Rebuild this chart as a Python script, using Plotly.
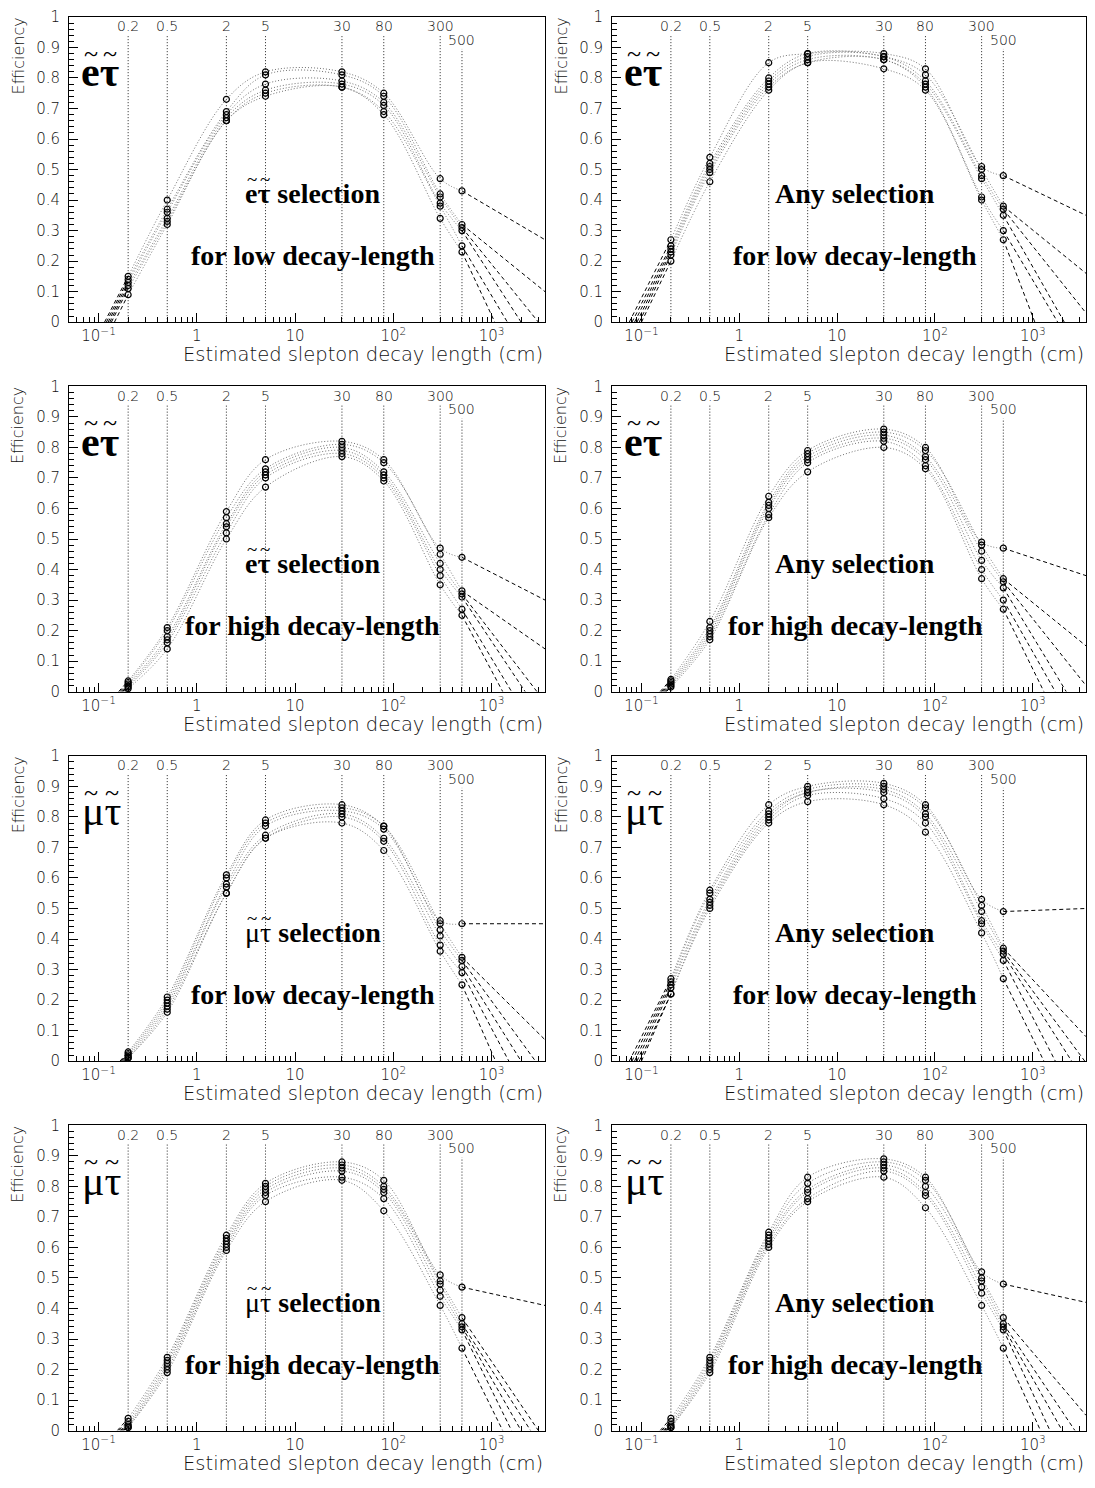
import math
import plotly.graph_objects as go

W, H = 1095, 1488

# ---------------- data ----------------
decay_points = [0.2, 0.5, 2, 5, 30, 80, 300, 500]
decay_labels = ["0.2", "0.5", "2", "5", "30", "80", "300", "500"]
xtick_vals = [0.1, 1, 10, 100, 1000]
xtick_text = ["10<sup>\u22121</sup>", "1", "10", "10<sup>2</sup>", "10<sup>3</sup>"]

# efficiencies, one row per curve, columns follow decay_points
eff_etau_sel_low = [
    [0.15, 0.40, 0.73, 0.82, 0.82, 0.75, 0.47, 0.43],
    [0.14, 0.37, 0.69, 0.81, 0.81, 0.74, 0.42, 0.32],
    [0.13, 0.36, 0.68, 0.78, 0.79, 0.72, 0.41, 0.31],
    [0.12, 0.34, 0.67, 0.76, 0.78, 0.71, 0.39, 0.30],
    [0.11, 0.33, 0.66, 0.75, 0.77, 0.69, 0.38, 0.25],
    [0.09, 0.32, 0.66, 0.74, 0.77, 0.68, 0.34, 0.23],
]
eff_etau_any_low = [
    [0.27, 0.54, 0.85, 0.88, 0.88, 0.83, 0.51, 0.48],
    [0.25, 0.52, 0.80, 0.88, 0.87, 0.81, 0.50, 0.38],
    [0.24, 0.51, 0.79, 0.87, 0.87, 0.79, 0.48, 0.37],
    [0.23, 0.50, 0.78, 0.86, 0.86, 0.78, 0.47, 0.35],
    [0.22, 0.49, 0.77, 0.85, 0.86, 0.77, 0.41, 0.30],
    [0.20, 0.46, 0.76, 0.85, 0.83, 0.76, 0.40, 0.27],
]
eff_etau_sel_high = [
    [0.035, 0.21, 0.59, 0.76, 0.82, 0.76, 0.47, 0.44],
    [0.030, 0.20, 0.57, 0.73, 0.81, 0.75, 0.45, 0.33],
    [0.025, 0.18, 0.55, 0.72, 0.80, 0.72, 0.42, 0.32],
    [0.020, 0.17, 0.54, 0.71, 0.79, 0.71, 0.40, 0.31],
    [0.015, 0.16, 0.52, 0.70, 0.78, 0.70, 0.38, 0.27],
    [0.010, 0.14, 0.50, 0.67, 0.77, 0.69, 0.35, 0.25],
]
eff_etau_any_high = [
    [0.040, 0.23, 0.64, 0.79, 0.86, 0.80, 0.49, 0.47],
    [0.035, 0.21, 0.62, 0.78, 0.85, 0.79, 0.48, 0.37],
    [0.030, 0.20, 0.61, 0.77, 0.84, 0.77, 0.46, 0.36],
    [0.025, 0.19, 0.60, 0.76, 0.83, 0.76, 0.43, 0.34],
    [0.020, 0.18, 0.58, 0.75, 0.82, 0.74, 0.40, 0.30],
    [0.015, 0.17, 0.57, 0.72, 0.80, 0.73, 0.37, 0.27],
]
eff_mutau_sel_low = [
    [0.030, 0.21, 0.61, 0.79, 0.84, 0.77, 0.46, 0.45],
    [0.025, 0.20, 0.60, 0.78, 0.83, 0.77, 0.45, 0.34],
    [0.020, 0.19, 0.58, 0.77, 0.82, 0.76, 0.43, 0.33],
    [0.015, 0.18, 0.57, 0.74, 0.81, 0.73, 0.41, 0.31],
    [0.010, 0.17, 0.55, 0.73, 0.80, 0.72, 0.38, 0.29],
    [0.010, 0.16, 0.55, 0.73, 0.78, 0.69, 0.36, 0.25],
]
eff_mutau_any_low = [
    [0.27, 0.56, 0.84, 0.90, 0.91, 0.84, 0.53, 0.49],
    [0.26, 0.55, 0.82, 0.89, 0.90, 0.83, 0.51, 0.37],
    [0.25, 0.53, 0.81, 0.88, 0.89, 0.81, 0.49, 0.36],
    [0.24, 0.52, 0.80, 0.88, 0.88, 0.80, 0.46, 0.35],
    [0.22, 0.51, 0.79, 0.87, 0.86, 0.78, 0.45, 0.33],
    [0.22, 0.50, 0.78, 0.85, 0.84, 0.75, 0.42, 0.27],
]
eff_mutau_sel_high = [
    [0.040, 0.24, 0.64, 0.81, 0.88, 0.82, 0.51, 0.47],
    [0.030, 0.23, 0.63, 0.80, 0.87, 0.80, 0.49, 0.37],
    [0.020, 0.22, 0.62, 0.79, 0.86, 0.79, 0.48, 0.35],
    [0.015, 0.21, 0.61, 0.78, 0.85, 0.78, 0.46, 0.34],
    [0.010, 0.20, 0.60, 0.77, 0.83, 0.76, 0.44, 0.33],
    [0.010, 0.19, 0.59, 0.75, 0.82, 0.72, 0.41, 0.27],
]
eff_mutau_any_high = [
    [0.040, 0.24, 0.65, 0.83, 0.89, 0.83, 0.52, 0.48],
    [0.030, 0.23, 0.64, 0.81, 0.88, 0.82, 0.50, 0.37],
    [0.020, 0.22, 0.63, 0.79, 0.87, 0.80, 0.49, 0.35],
    [0.015, 0.21, 0.62, 0.78, 0.86, 0.78, 0.47, 0.34],
    [0.010, 0.20, 0.61, 0.76, 0.85, 0.77, 0.45, 0.33],
    [0.010, 0.19, 0.60, 0.75, 0.83, 0.73, 0.41, 0.27],
]

# extrapolation beyond 500 cm: end point (x, efficiency) of each curve
ext_hi_x_etau_sel_low = [3500, 3500, 3000, 2000, 1450, 1080]
ext_hi_y_etau_sel_low = [0.27, 0.10, 0, 0, 0, 0]
ext_hi_x_etau_any_low = [3500, 3500, 3500, 2100, 1800, 1050]
ext_hi_y_etau_any_low = [0.35, 0.16, 0.03, 0, 0, 0]
ext_hi_x_etau_sel_high = [3500, 3500, 2900, 2200, 1600, 1300]
ext_hi_y_etau_sel_high = [0.30, 0.14, 0, 0, 0, 0]
ext_hi_x_etau_any_high = [3500, 3500, 3500, 2200, 1700, 1300]
ext_hi_y_etau_any_high = [0.38, 0.15, 0.02, 0, 0, 0]
ext_hi_x_mutau_sel_low = [3500, 3500, 2800, 2000, 1500, 1100]
ext_hi_y_mutau_sel_low = [0.45, 0.07, 0, 0, 0, 0]
ext_hi_x_mutau_any_low = [3500, 3500, 3400, 2500, 1700, 1300]
ext_hi_y_mutau_any_low = [0.50, 0.08, 0, 0, 0, 0]
ext_hi_x_mutau_sel_high = [3500, 3000, 2500, 2000, 1600, 1300]
ext_hi_y_mutau_sel_high = [0.41, 0, 0, 0, 0, 0]
ext_hi_x_mutau_any_high = [3500, 3500, 2700, 2000, 1500, 1200]
ext_hi_y_mutau_any_high = [0.42, 0.05, 0, 0, 0, 0]

# extrapolation below 0.2 cm: decay length where efficiency reaches 0
ext_lo_x_etau_sel_low = [0.115, 0.12, 0.125, 0.13, 0.135, 0.145]
ext_lo_x_etau_any_low = [0.075, 0.08, 0.085, 0.09, 0.095, 0.10]
ext_lo_x_etau_sel_high = [0.16, 0.165, 0.17, 0.175, 0.18, 0.185]
ext_lo_x_etau_any_high = [0.155, 0.16, 0.165, 0.17, 0.175, 0.18]
ext_lo_x_mutau_sel_low = [0.165, 0.17, 0.175, 0.18, 0.185, 0.19]
ext_lo_x_mutau_any_low = [0.075, 0.08, 0.085, 0.09, 0.095, 0.10]
ext_lo_x_mutau_sel_high = [0.155, 0.16, 0.165, 0.17, 0.175, 0.18]
ext_lo_x_mutau_any_high = [0.155, 0.16, 0.165, 0.17, 0.175, 0.18]

panels = [
    dict(eff=eff_etau_sel_low, hx=ext_hi_x_etau_sel_low, hy=ext_hi_y_etau_sel_low, lx=ext_lo_x_etau_sel_low,
         lep="e", sel=True, rng="<b>for low decay-length</b>"),
    dict(eff=eff_etau_any_low, hx=ext_hi_x_etau_any_low, hy=ext_hi_y_etau_any_low, lx=ext_lo_x_etau_any_low,
         lep="e", sel=False, rng="<b>for low decay-length</b>"),
    dict(eff=eff_etau_sel_high, hx=ext_hi_x_etau_sel_high, hy=ext_hi_y_etau_sel_high, lx=ext_lo_x_etau_sel_high,
         lep="e", sel=True, rng="<b>for high decay-length</b>"),
    dict(eff=eff_etau_any_high, hx=ext_hi_x_etau_any_high, hy=ext_hi_y_etau_any_high, lx=ext_lo_x_etau_any_high,
         lep="e", sel=False, rng="<b>for high decay-length</b>"),
    dict(eff=eff_mutau_sel_low, hx=ext_hi_x_mutau_sel_low, hy=ext_hi_y_mutau_sel_low, lx=ext_lo_x_mutau_sel_low,
         lep="mu", sel=True, rng="<b>for low decay-length</b>"),
    dict(eff=eff_mutau_any_low, hx=ext_hi_x_mutau_any_low, hy=ext_hi_y_mutau_any_low, lx=ext_lo_x_mutau_any_low,
         lep="mu", sel=False, rng="<b>for low decay-length</b>"),
    dict(eff=eff_mutau_sel_high, hx=ext_hi_x_mutau_sel_high, hy=ext_hi_y_mutau_sel_high, lx=ext_lo_x_mutau_sel_high,
         lep="mu", sel=True, rng="<b>for high decay-length</b>"),
    dict(eff=eff_mutau_any_high, hx=ext_hi_x_mutau_any_high, hy=ext_hi_y_mutau_any_high, lx=ext_lo_x_mutau_any_high,
         lep="mu", sel=False, rng="<b>for high decay-length</b>"),
]

# ---------------- layout helpers ----------------
def px(x):
    return x / W

def py(y):
    return 1 - y / H

COL_X = [(69, 545), (612, 1086)]
ROW_TOP0, ROW_H, ROW_STEP = 8, 309, 374
XMIN, XMAX = 0.05, 3500

SANS = "DejaVu Sans"
SERIF = "Liberation Serif"
TXT = "#111111"
LIGHT = 300

fig = go.Figure()
layout = dict(
    width=W, height=H,
    margin=dict(l=0, r=0, t=0, b=0),
    paper_bgcolor="white", plot_bgcolor="white",
    showlegend=False,
    font=dict(family=SANS, color=TXT),
)
annotations = []

def note(x, y, text, size, family=SERIF, color="black", weight=None, **kw):
    f = dict(family=family, size=size, color=color)
    if weight is not None:
        f["weight"] = weight
    d = dict(x=px(x), y=py(y), xref="paper", yref="paper", text=text, showarrow=False,
             xanchor="center", yanchor="middle", font=f)
    d.update(kw)
    annotations.append(d)

minor_x = []
for dec in [0.01, 0.1, 1, 10, 100, 1000]:
    for k in range(2, 10):
        v = k * dec
        if XMIN <= v <= XMAX:
            minor_x.append(v)

for i, p in enumerate(panels):
    r, c = divmod(i, 2)
    n = i + 1
    xa = "x" if n == 1 else f"x{n}"
    ya = "y" if n == 1 else f"y{n}"
    top = ROW_TOP0 + r * ROW_STEP
    bot = top + ROW_H
    x0p, x1p = COL_X[c]

    layout["xaxis" if n == 1 else f"xaxis{n}"] = dict(
        domain=[px(x0p), px(x1p)], anchor=ya, type="log",
        range=[math.log10(XMIN), math.log10(XMAX)],
        tickmode="array", tickvals=xtick_vals, ticktext=xtick_text,
        ticks="inside", ticklen=9, tickwidth=1, tickcolor="black",
        minor=dict(tickmode="array", tickvals=minor_x, ticks="inside", ticklen=5, tickcolor="black"),
        showline=True, linecolor="black", linewidth=1, mirror=True,
        showgrid=False, zeroline=False,
        tickfont=dict(family=SANS, size=15, color=TXT, weight=LIGHT),
    )
    layout["yaxis" if n == 1 else f"yaxis{n}"] = dict(
        domain=[py(bot), py(top)], anchor=xa,
        range=[0, 1], tick0=0, dtick=0.1,
        ticks="inside", ticklen=9, tickwidth=1, tickcolor="black",
        minor=dict(dtick=0.02, ticks="inside", ticklen=5, tickcolor="black"),
        showline=True, linecolor="black", linewidth=1, mirror=True,
        showgrid=False, zeroline=False, ticklabelstandoff=5,
        tickfont=dict(family=SANS, size=15, color=TXT, weight=LIGHT),
    )

    # vertical reference lines at the simulated decay lengths
    for v, lab in zip(decay_points, decay_labels):
        ytop = 0.895 if lab == "500" else 0.942
        fig.add_trace(go.Scatter(x=[v, v], y=[0, ytop], xaxis=xa, yaxis=ya, mode="lines",
                                 line=dict(color="#222222", width=1, dash="1px,2px"), hoverinfo="skip"))
        annotations.append(dict(x=math.log10(v), y=(0.925 if lab == "500" else 0.969),
                                xref=xa, yref=ya, text=lab, showarrow=False,
                                font=dict(family=SANS, size=14, color=TXT, weight=LIGHT),
                                xanchor="center", yanchor="middle"))

    # fitted curves (dotted) and extrapolations (dashed)
    for s, ys in enumerate(p["eff"]):
        fig.add_trace(go.Scatter(x=decay_points, y=ys, xaxis=xa, yaxis=ya, mode="lines",
                                 line=dict(color="#707070", width=1, dash="1px,2px", shape="spline", smoothing=1.0),
                                 hoverinfo="skip"))
        fig.add_trace(go.Scatter(x=[decay_points[-1], p["hx"][s]], y=[ys[-1], p["hy"][s]],
                                 xaxis=xa, yaxis=ya, mode="lines",
                                 line=dict(color="black", width=1, dash="4px,3px"), hoverinfo="skip"))
        fig.add_trace(go.Scatter(x=[p["lx"][s], decay_points[0]], y=[0, ys[0]],
                                 xaxis=xa, yaxis=ya, mode="lines",
                                 line=dict(color="black", width=1, dash="4px,3px"), hoverinfo="skip"))

    # measured points
    mx, my = [], []
    for ys in p["eff"]:
        mx.extend(decay_points)
        my.extend(ys)
    fig.add_trace(go.Scatter(x=mx, y=my, xaxis=xa, yaxis=ya, mode="markers",
                             marker=dict(symbol="circle-open", size=6, color="black", line=dict(width=1.2)),
                             cliponaxis=False, hoverinfo="skip"))

    # big channel label with tildes
    if p["lep"] == "e":
        note(x0p + 31, top + 56, "<b>e\u03c4</b>", 42)
        tx = (x0p + 22, x0p + 41)
    else:
        note(x0p + 32, top + 56, "\u03bc\u03c4", 42)
        tx = (x0p + 22, x0p + 43)
    for t in tx:
        note(t, top + 37, "~", 26)

    # selection text
    cx = (x0p + x1p) / 2 + 6
    if p["sel"]:
        if p["lep"] == "e":
            note(cx, top + 179, "<b>e\u03c4 selection</b>", 28)
            stx = (cx - 61.5, cx - 48.5)
        else:
            note(cx, top + 179, "\u03bc\u03c4<b> selection</b>", 28)
            stx = (cx - 61, cx - 47)
        for t in stx:
            note(t, top + 165, "~", 19)
    else:
        note(cx, top + 179, "<b>Any selection</b>", 28)
    note(cx, top + 242, p["rng"], 28)

    # axis titles
    note(x1p, bot + 33, "Estimated slepton decay length (cm)", 19.5, family=SANS, color=TXT,
         weight=LIGHT, xanchor="right")
    note(x0p - 51, top + 40, "Efficiency", 16, family=SANS, color=TXT, weight=LIGHT, textangle=-90)

layout["annotations"] = annotations
fig.update_layout(**layout)
fig.write_html("out.html",
               config={"displayModeBar": False},
               post_script="document.body.style.margin='0px';document.body.style.overflow='hidden';")
